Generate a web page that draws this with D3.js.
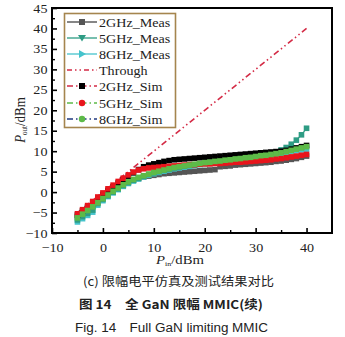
<!DOCTYPE html>
<html><head><meta charset="utf-8">
<script src="https://cdn.jsdelivr.net/npm/d3@7"></script>
<style>html,body{margin:0;padding:0;background:#fff;}svg{display:block;}</style>
</head><body>
<svg id="c" width="345" height="337"></svg>
<script>
const pin = [-5,-4,-3,-2,-1,0,1,2,3,4,5,6,7,8,9,10,11,12,13,14,15,16,17,18,19,20,21,22,23,24,25,26,27,28,29,30,31,32,33,34,35,36,37,38,39,40];
const meas2 = [-6.0,-5.1,-4.2,-3.3,-2.4,-1.5,-0.6,0.3,1.1,1.8,2.4,2.9,3.3,3.7,3.9,4.1,4.3,4.5,4.6,4.7,4.8,4.9,5.0,5.1,5.2,5.3,5.4,5.5,6.2,6.3,6.4,6.6,6.7,6.8,6.9,7.0,7.1,7.2,7.3,7.5,7.6,7.8,8.0,8.2,8.5,8.8];
const meas5 = [-6.8,-6.0,-5.2,-4.4,-2.8,-1.8,-0.9,0.0,0.8,1.6,2.3,2.9,3.4,3.9,4.3,4.7,5.0,5.3,5.6,5.9,6.1,6.3,6.5,6.7,6.9,7.1,7.2,7.4,7.5,7.7,7.9,8.0,8.2,8.4,8.5,8.7,8.9,9.1,9.4,9.8,10.3,10.9,11.7,12.7,14.0,15.6];
const meas8 = [-7.3,-6.5,-5.7,-4.9,-3.2,-2.1,-1.1,-0.2,0.6,1.4,2.1,2.7,3.2,3.7,4.1,4.5,4.8,5.1,5.4,5.7,5.9,6.1,6.3,6.5,6.7,6.9,7.0,7.2,7.3,7.5,7.7,7.8,8.0,8.2,8.3,8.5,8.7,8.9,9.1,9.3,9.5,9.7,9.9,10.1,10.3,10.5];
const sim2 = [-5.6,-4.6,-3.6,-2.6,-1.6,-0.6,0.4,1.3,2.2,3.1,3.9,4.7,5.5,6.2,6.6,6.9,7.2,7.5,7.7,7.9,8.0,8.1,8.2,8.3,8.4,8.5,8.6,8.7,8.8,8.9,9.0,9.1,9.2,9.3,9.4,9.5,9.6,9.7,9.8,9.9,10.0,10.2,10.5,10.8,11.1,11.4];
const sim5 = [-5.3,-4.3,-3.3,-2.3,-1.2,-0.2,0.8,1.7,2.6,3.4,4.2,4.9,5.4,5.7,5.9,6.0,6.1,6.2,6.3,6.4,6.5,6.6,6.7,6.7,6.8,6.9,6.9,7.0,7.0,7.1,7.2,7.3,7.3,7.4,7.5,7.6,7.7,7.8,7.9,8.1,8.2,8.4,8.6,8.8,9.0,9.2];
const sim8 = [-6.3,-5.4,-4.5,-3.6,-2.6,-1.6,-0.7,0.2,1.0,1.8,2.5,3.1,3.6,4.0,4.4,4.8,5.1,5.4,5.7,6.0,6.2,6.4,6.6,6.8,7.0,7.2,7.3,7.5,7.6,7.8,7.9,8.1,8.2,8.4,8.5,8.7,8.9,9.0,9.2,9.4,9.6,9.9,10.2,10.5,10.8,11.1];
const throughX = [-5, 40];
const throughY = [-5, 40];
const seriesNames = ["2GHz_Meas","5GHz_Meas","8GHz_Meas","Through","2GHz_Sim","5GHz_Sim","8GHz_Sim"];
const xTicks = [-10,0,10,20,30,40];
const yTicks = [-10,-5,0,5,10,15,20,25,30,35,40,45];
const captions = ["(c) 限幅电平仿真及测试结果对比","图 14　全 GaN 限幅 MMIC(续)","Fig. 14　Full GaN limiting MMIC"];

const svg = d3.select("#c");
const L=52,R=332,T=8,B=233;
const x = d3.scaleLinear().domain([-10,45]).range([L,R]);
const y = d3.scaleLinear().domain([-10,45]).range([B,T]);
const SX = 1.13;
const serif = "'Liberation Serif','Times New Roman',serif";

svg.append("defs").append("clipPath").attr("id","clip").append("rect")
  .attr("x",L).attr("y",T).attr("width",R-L).attr("height",B-T);

const g = svg.append("g").attr("clip-path","url(#clip)");

// through line
g.append("path").datum(throughX.map((v,i)=>[v,throughY[i]]))
  .attr("d", d3.line().x(d=>x(d[0])).y(d=>y(d[1])))
  .attr("fill","none").attr("stroke","#d42a45").attr("stroke-width",1.6)
  .attr("stroke-dasharray","6,3,1.5,3,1.5,3");

const plotSeries = [
  {v:meas2, c:"#555555"},
  {v:meas8, c:"#45c3cc"},
  {v:meas5, c:"#2e9c84"},
  {v:sim2, c:"#000000"},
  {v:sim5, c:"#e8151c"},
  {v:sim8, c:"#5dba48"}
];
const line = d3.line().x((d,i)=>x(pin[i])).y(d=>y(d));
const ms = 5.6;
plotSeries.forEach(s=>{
  g.append("path").datum(s.v).attr("d",line).attr("fill","none")
    .attr("stroke",s.c).attr("stroke-width",1.2);
  g.selectAll(null).data(s.v).enter().append("rect")
    .attr("x",(d,i)=>x(pin[i])-ms/2).attr("y",d=>y(d)-ms/2)
    .attr("width",ms).attr("height",ms).attr("fill",s.c);
});

// axes
const ax = svg.append("g").attr("transform",`translate(0,${B})`)
  .call(d3.axisBottom(x).tickValues(xTicks).tickSize(-5).tickPadding(10).tickFormat(d=>d<0?"\u2212"+Math.abs(d):d));
ax.select(".domain").remove();
ax.selectAll("line").attr("stroke","#000").attr("stroke-width",1.6);
ax.selectAll("text").attr("font-family",serif).attr("font-size",12.5).attr("fill","#222")
  .attr("transform",`scale(${SX},1)`);
const axm = svg.append("g").attr("transform",`translate(0,${B})`)
  .call(d3.axisBottom(x).tickValues([-5,5,15,25,35]).tickSize(-3).tickFormat(""));
axm.select(".domain").remove();
axm.selectAll("line").attr("stroke","#000").attr("stroke-width",1.4);

const ay = svg.append("g").attr("transform",`translate(${L},0)`)
  .call(d3.axisLeft(y).tickValues(yTicks).tickSize(-5).tickPadding(4).tickFormat(d=>d<0?"\u2212"+Math.abs(d):d));
ay.select(".domain").remove();
ay.selectAll("line").attr("stroke","#000").attr("stroke-width",1.6);
ay.selectAll("text").attr("font-family",serif).attr("font-size",12.5).attr("fill","#222")
  .attr("transform",`scale(${SX},1)`);
const aym = svg.append("g").attr("transform",`translate(${L},0)`)
  .call(d3.axisLeft(y).tickValues(d3.range(-7.5,45,5)).tickSize(-3).tickFormat(""));
aym.select(".domain").remove();
aym.selectAll("line").attr("stroke","#000").attr("stroke-width",1.4);

// frame
svg.append("rect").attr("x",L).attr("y",T).attr("width",R-L).attr("height",B-T)
  .attr("fill","none").attr("stroke","#000").attr("stroke-width",2);

// legend
const lg = svg.append("g");
lg.append("rect").attr("x",64.5).attr("y",13.5).attr("width",111).attr("height",114)
  .attr("fill","#fff").attr("stroke","#a5854e").attr("stroke-width",1.6);
const legY = [22,38,54,70,86,103,119];
const legLine = ["#444","#2e9c84","#45c3cc","#d42a45","#d42a45","#5dba48","#203a80"];
const legDash = [null,null,null,"5,3,1.5,3,1.5,3","6,3,1.5,3","6,3,1.5,3","6,3,1.5,3"];
const legMark = [["sq","#555"],["tri","#2e9c84"],["rtri","#45c3cc"],null,["sq","#000"],["ci","#e8151c"],["ci","#5dba48"]];
seriesNames.forEach((n,i)=>{
  const yy = legY[i];
  lg.append("line").attr("x1",67).attr("x2",97).attr("y1",yy).attr("y2",yy)
    .attr("stroke",legLine[i]).attr("stroke-width",1.3).attr("stroke-dasharray",legDash[i]);
  const m = legMark[i];
  if(m){
    if(m[0]==="sq") lg.append("rect").attr("x",79).attr("y",yy-3).attr("width",6).attr("height",6).attr("fill",m[1]);
    if(m[0]==="ci") lg.append("circle").attr("cx",82).attr("cy",yy).attr("r",3.2).attr("fill",m[1]);
    if(m[0]==="tri") lg.append("path").attr("d",`M78,${yy-3}L86,${yy-3}L82,${yy+3.5}Z`).attr("fill",m[1]);
    if(m[0]==="rtri") lg.append("path").attr("d",`M79,${yy-4}L86,${yy}L79,${yy+4}Z`).attr("fill",m[1]);
  }
  lg.append("text").attr("transform",`translate(99,${yy+4.5}) scale(${SX},1)`)
    .attr("font-family",serif).attr("font-size",12.5).attr("fill","#222").text(n);
});

// axis titles
const xt = svg.append("text").attr("transform",`translate(180,264) scale(${SX},1)`)
  .attr("text-anchor","middle").attr("font-family",serif).attr("font-size",13).attr("fill","#222");
xt.append("tspan").attr("font-style","italic").text("P");
xt.append("tspan").attr("font-size",7).attr("dy",2).text("in");
xt.append("tspan").attr("dy",-2).text("/dBm");

const yt = svg.append("text").attr("transform",`translate(25,120) rotate(-90) scale(1,${SX})`)
  .attr("text-anchor","middle").attr("font-family",serif).attr("font-size",13).attr("fill","#222");
yt.append("tspan").attr("font-style","italic").text("P");
yt.append("tspan").attr("font-size",7).attr("dy",2).text("out");
yt.append("tspan").attr("dy",-2).text("/dBm");

// captions
const capX = [83,79,75], capW=[191,184,193], capY=[286,309,332];
const capFont = ["'Noto Sans CJK SC','Liberation Sans',sans-serif","'Noto Sans CJK SC','Liberation Sans',sans-serif","'Liberation Sans','Noto Sans',sans-serif"];
captions.forEach((t,i)=>{
  svg.append("text").attr("x",capX[i]).attr("y",capY[i]).attr("font-family",capFont[i])
    .attr("font-size",12).attr("font-weight",i===1?"bold":"normal").attr("fill","#222")
    .attr("textLength",capW[i]).attr("lengthAdjust","spacingAndGlyphs").text(t);
});
</script>
</body></html>
